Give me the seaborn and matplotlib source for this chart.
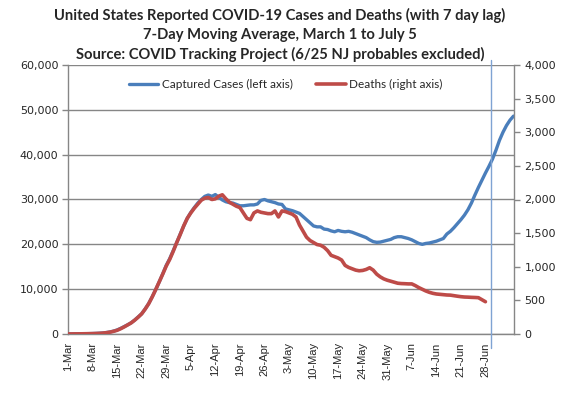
import numpy as np
import pandas as pd
import matplotlib
matplotlib.use("Agg")
import matplotlib.pyplot as plt
import seaborn as sns
from matplotlib.ticker import FuncFormatter

# 7-day moving average of cases, Mar 1 .. Jul 5 (one value per day)
cases = [
    20, 25, 30, 40, 50, 60, 80, 100, 130, 170,
    230, 330, 460, 650, 900, 1250, 1650, 2050, 2500, 3100,
    3800, 4500, 5600, 6800, 8300, 9900, 11600, 13400, 15300, 16800,
    18600, 20400, 22300, 24100, 25800, 27100, 28200, 29200, 30000, 30700,
    31000, 30700, 31100, 30500, 29900, 29500, 29300, 29200, 28900, 28600,
    28600, 28700, 28800, 28800, 29000, 29800, 30000, 29700, 29500, 29300,
    29000, 28900, 27900, 27700, 27500, 27200, 26900, 26200, 25500, 24800,
    24100, 23900, 23900, 23400, 23300, 23000, 22800, 23100, 22900, 22800,
    22900, 22700, 22400, 22100, 21800, 21500, 21000, 20600, 20450, 20500,
    20700, 20900, 21100, 21500, 21700, 21700, 21500, 21300, 21000, 20600,
    20200, 20000, 20200, 20300, 20500, 20700, 21000, 21300, 22300, 22900,
    23700, 24600, 25500, 26500, 27700, 29200, 31000, 32700, 34300, 35900,
    37400, 39000, 41000, 43200, 45000, 46500, 47700, 48600,
]

# 7-day moving average of deaths, shifted back 7 days (Mar 1 .. Jun 28)
deaths = [
    1, 1, 2, 2, 3, 4, 5, 6, 8, 10,
    14, 20, 28, 40, 55, 78, 105, 135, 165, 205,
    250, 300, 370, 450, 550, 660, 775, 890, 1010, 1110,
    1230, 1360, 1480, 1610, 1720, 1800, 1870, 1930, 1990, 2020,
    2030, 2000, 2010, 2050, 2070, 2010, 1960, 1930, 1900, 1880,
    1800, 1720, 1700, 1800, 1830, 1810, 1800, 1790, 1790, 1830,
    1740, 1830, 1820, 1800, 1780, 1740, 1620, 1530, 1440, 1390,
    1360, 1330, 1320, 1290, 1240, 1170, 1150, 1130, 1100, 1020,
    990, 970, 950, 940, 945, 960, 985, 950, 890, 850,
    820, 800, 785, 770, 755, 750, 748, 745, 745, 720,
    690, 665, 640, 620, 605, 595, 590, 585, 580, 578,
    570, 562, 555, 550, 548, 545, 543, 540, 510, 480,
]

title_lines = [
    "United States Reported COVID-19 Cases and Deaths (with 7 day lag)",
    "7-Day Moving Average, March 1 to July 5",
    "Source: COVID Tracking Project (6/25 NJ probables excluded)",
]
series_names = ["Captured Cases (left axis)", "Deaths (right axis)"]
start_date = "2020-03-01"
marker_date = "2020-06-29 12:00"

BLUE = "#4A7EBB"
RED = "#BE4B48"
GRAY = "#868686"

df_cases = pd.DataFrame({"date": pd.date_range(start_date, periods=len(cases)), "value": cases})
df_deaths = pd.DataFrame({"date": pd.date_range(start_date, periods=len(deaths)), "value": deaths})

sns.set_style("white")
plt.rcParams["font.family"] = ["DejaVu Sans"]

fig = plt.figure(figsize=(5.67, 3.99), dpi=100)
ax = fig.add_axes([68 / 567, 1 - 334 / 399, (513.5 - 68) / 567, (334 - 65) / 399])
ax2 = ax.twinx()

sns.lineplot(data=df_cases, x="date", y="value", ax=ax, color=BLUE, lw=2.4, legend=False)
sns.lineplot(data=df_deaths, x="date", y="value", ax=ax2, color=RED, lw=2.6, legend=False)

first_day = df_cases["date"].iloc[0]
last_day = df_cases["date"].iloc[-1]
ax.set_xlim(first_day, last_day)
ax.set_ylim(0, 60000)
ax2.set_ylim(0, 4000)
ax.set_yticks(range(0, 60001, 10000))
ax2.set_yticks(range(0, 4001, 500))
comma = FuncFormatter(lambda v, p: f"{int(v):,}")
ax.yaxis.set_major_formatter(comma)
ax2.yaxis.set_major_formatter(comma)

# weekly labels 1-Mar .. 28-Jun, plus an unlabeled tick at the right edge
week_ticks = list(df_cases["date"].iloc[:120:7])
ax.set_xticks(week_ticks + [last_day])
ax.set_xticklabels([f"{d.day}-{d:%b}" for d in week_ticks] + [""], rotation=90,
                   family="Liberation Sans", fontsize=7.3)
ax.set_xlabel("")
ax.set_ylabel("")
ax2.set_ylabel("")

ax.grid(axis="y", color=GRAY, lw=1)
ax.grid(axis="x", visible=False)
ax2.grid(False)
ax.set_axisbelow(True)

for a in (ax, ax2):
    for side, sp in a.spines.items():
        sp.set_color(GRAY)
        sp.set_linewidth(1)
    a.spines["top"].set_visible(False)
ax.spines["right"].set_visible(False)
ax2.spines["left"].set_visible(False)
ax2.spines["bottom"].set_visible(False)

ax.tick_params(axis="both", which="major", length=4, width=1, color=GRAY, labelsize=8, pad=3)
ax.tick_params(axis="x", direction="out", pad=2)
ax2.tick_params(axis="y", length=4, width=1, color=GRAY, labelsize=8, pad=4)

# thin marker line near the end of the deaths series
ax2.axvline(pd.Timestamp(marker_date), ymin=-0.052, ymax=1.02, color="#7FA3D3", lw=1, clip_on=False)

handles = [plt.Line2D([], [], color=BLUE, lw=2.4), plt.Line2D([], [], color=RED, lw=2.6)]
ax2.legend(handles, series_names, loc="center", bbox_to_anchor=(0.489, 0.926), ncol=2,
           frameon=False, handlelength=2.5, columnspacing=2.0, handletextpad=0.3,
           prop={"family": "Lato", "size": 8.5})

for i, line in enumerate(title_lines):
    fig.text(280 / 567, 1 - (15 + i * 19.5) / 399, line, ha="center", va="center",
             family="Lato", weight="bold", fontsize=10.6)

fig.savefig("out.png", dpi=100)
